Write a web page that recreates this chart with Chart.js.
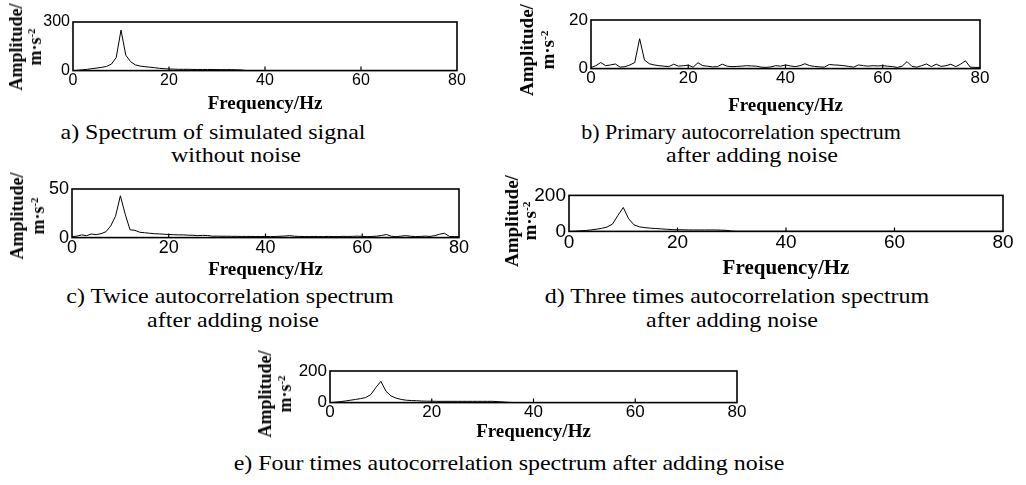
<!DOCTYPE html>
<html>
<head>
<meta charset="utf-8">
<script src="https://cdn.jsdelivr.net/npm/chart.js@4.4.1/dist/chart.umd.min.js"></script>
<style>
  body { margin: 0; background: #fff; width: 1026px; height: 485px; position: relative; overflow: hidden;
         font-family: "Liberation Serif", "Times New Roman", serif; color: #000; }
  canvas { position: absolute; }
  .cap { position: absolute; white-space: nowrap; font-size: 22px; line-height: 22px; }
  .ytl { position: absolute; white-space: nowrap; font-weight: bold; text-align: center;
         transform: translate(-50%, -50%) rotate(-90deg); }
  .ytl sup { font-size: 0.6em; line-height: 0; vertical-align: 0.55em; }
</style>
</head>
<body>
<script>
// frequency axis, 1 Hz steps
const hz = [0,1,2,3,4,5,6,7,8,9,10,11,12,13,14,15,16,17,18,19,20,
  21,22,23,24,25,26,27,28,29,30,31,32,33,34,35,36,37,38,39,40,
  41,42,43,44,45,46,47,48,49,50,51,52,53,54,55,56,57,58,59,60,
  61,62,63,64,65,66,67,68,69,70,71,72,73,74,75,76,77,78,79,80];

// a) spectrum of simulated signal without noise
const ampA = [0,2,5,8,12,16,20,26,40,80,250,95,55,35,28,24,21,18,14,12,10,
  9,8,8,8,7,7,7,7,7,6,6,6,6,5,4,1,1,1,1,1,
  1,1,1,1,1,1,1,1,1,1,1,1,1,1,1,1,1,1,1,1,
  1,1,1,1,1,1,1,1,1,1,1,1,1,1,1,1,1,1,1,1];

// b) primary autocorrelation spectrum
const ampB = [0.4,1.2,2.5,1.2,1.5,1.9,0.6,0.8,1.5,2.5,12.3,3.5,2.0,1.5,1.2,1.0,0.8,1.8,1.0,1.2,1.4,
  0.6,2.4,1.2,1.0,0.7,0.8,1.8,1.0,0.8,0.9,1.0,1.2,1.1,1.0,0.6,0.5,0.7,1.2,1.0,1.5,
  1.1,0.8,1.2,2.0,1.2,0.9,0.7,0.6,1.7,1.5,1.4,1.2,0.9,0.6,1.5,1.2,1.0,1.2,1.1,1.2,
  1.0,0.8,0.5,1.0,2.9,0.9,0.6,1.2,1.9,0.8,1.8,0.9,1.2,1.8,0.8,1.8,3.2,0.6,0.5,0.5];

// c) twice autocorrelation spectrum
const ampC = [1,1.5,2.8,2,3.7,3,4,6,12,22,43,24,8,7.5,5.5,5,4.5,4,3.8,3.5,3.2,
  3,2.8,2.8,2.5,2.4,2,2.3,2.2,1.5,1.5,1.4,1.4,1.3,1.3,1.2,1.2,1.2,1.1,1.1,1.2,
  1.0,1.2,1.4,1.6,2.0,1.4,1.2,1.1,1.0,1.2,1.1,1.0,1.2,1.1,1.0,1.3,1.2,1.3,1.5,1.2,
  1.0,1.2,1.5,2.2,3.2,1.4,1.0,1.5,2.0,1.4,1.0,1.2,1.5,1.2,2.0,3.5,4.5,1.2,1.0,1.0];

// d) three times autocorrelation spectrum
const ampD = [0,1,3,5,8,12,17,24,40,88,133,70,36,25,21,18,16,14,12,10,9,
  9,8,8,8,8,8,8,7,6,2,0.5,0.5,0.5,0.5,0.5,0.5,0.5,0.5,0.5,0.5,
  0.5,0.5,0.5,0.5,0.5,0.5,0.5,0.5,0.5,0.5,0.5,0.5,0.5,0.5,0.5,0.5,0.5,0.5,0.5,0.5,
  0.5,0.5,0.5,0.5,0.5,0.5,0.5,0.5,0.5,0.5,0.5,0.5,0.5,0.5,0.5,0.5,0.5,0.5,0.5,0.5];

// e) four times autocorrelation spectrum
const ampE = [0,3,6,10,15,20,25,32,50,95,135,72,42,28,20,15,13,12,10,9,9,
  8,8,8,8,8,8,8,8,8,8,8,8,6,4,2,0.5,0.5,0.5,0.5,0.5,
  0.5,0.5,0.5,0.5,0.5,0.5,0.5,0.5,0.5,0.5,0.5,0.5,0.5,0.5,0.5,0.5,0.5,0.5,0.5,0.5,
  0.5,0.5,0.5,0.5,0.5,0.5,0.5,0.5,0.5,0.5,0.5,0.5,0.5,0.5,0.5,0.5,0.5,0.5,0.5,0.5];

const xTicks = [0, 20, 40, 60, 80];
const yTicksA = [0, 300];
const yTicksB = [0, 20];
const yTicksC = [0, 50];
const yTicksD = [0, 200];
const yTicksE = [0, 200];

const xTitle = 'Frequency/Hz';

// layout of each small plot: box = plot frame [left, top, right, bottom]
const panels = [
  { data: ampA, yTicks: yTicksA, box: [73, 22, 457, 71],   tick: 16, tfs: 19, titleY: 104, yt: [26, 47, 18, 19] },
  { data: ampB, yTicks: yTicksB, box: [591, 20, 980, 69],  tick: 17, tfs: 19, titleY: 106, yt: [537, 50, 19, 21] },
  { data: ampC, yTicks: yTicksC, box: [72, 189, 459, 238], tick: 18, tfs: 19, titleY: 270, yt: [28, 216, 18, 21] },
  { data: ampD, yTicks: yTicksD, box: [569, 195, 1003, 232], tick: 19, tfs: 21, titleY: 269, yt: [521, 221, 19, 18] },
  { data: ampE, yTicks: yTicksE, box: [330, 371, 737, 403], tick: 17, tfs: 19, titleY: 432, yt: [275, 394, 18, 20] }
];

// caption text, centre x, baseline y, horizontal stretch
const captions = [
  ['a) Spectrum of simulated signal', 213, 139, 1.09],
  ['without noise', 236, 162, 1.09],
  ['b) Primary autocorrelation spectrum', 741, 139, 1.0],
  ['after adding noise', 752, 162, 1.09],
  ['c) Twice autocorrelation spectrum', 230, 303, 1.09],
  ['after adding noise', 233, 327, 1.09],
  ['d) Three times autocorrelation spectrum', 737, 303, 1.09],
  ['after adding noise', 732, 327, 1.09],
  ['e) Four times autocorrelation spectrum after adding noise', 509, 470, 1.09]
];

// frame round the plot area plus short inward ticks on the x axis
const framePlugin = {
  id: 'frame',
  afterDatasetsDraw(chart) {
    const { ctx, chartArea: a, scales } = chart;
    ctx.save();
    ctx.strokeStyle = '#000';
    ctx.lineWidth = 1.6;
    ctx.strokeRect(a.left, a.top, a.right - a.left, a.bottom - a.top);
    ctx.lineWidth = 1.2;
    ctx.beginPath();
    xTicks.slice(1, -1).forEach(v => {
      const px = scales.x.getPixelForValue(v);
      ctx.moveTo(px, a.bottom);
      ctx.lineTo(px, a.bottom - 4);
    });
    ctx.stroke();
    ctx.restore();
  }
};

const PAD_TOP = 14, PAD_RIGHT = 22, Y_W = 60;

panels.forEach(p => {
  const [l, t, r, b] = p.box;
  const lh = p.tfs * 1.2;
  const xH = p.titleY - b + lh / 2;

  const canvas = document.createElement('canvas');
  canvas.width = Y_W + (r - l) + PAD_RIGHT;
  canvas.height = PAD_TOP + (b - t) + xH;
  canvas.style.left = (l - Y_W) + 'px';
  canvas.style.top = (t - PAD_TOP) + 'px';
  document.body.appendChild(canvas);

  new Chart(canvas, {
    type: 'line',
    data: {
      datasets: [{
        data: hz.map((f, i) => ({ x: f, y: p.data[i] })),
        borderColor: '#000',
        borderWidth: 1,
        pointRadius: 0,
        tension: 0,
        fill: false
      }]
    },
    options: {
      responsive: false,
      maintainAspectRatio: false,
      animation: false,
      devicePixelRatio: 1,
      layout: { padding: { top: PAD_TOP, right: PAD_RIGHT, left: 0, bottom: 0 } },
      plugins: { legend: { display: false }, tooltip: { enabled: false } },
      scales: {
        x: {
          type: 'linear', min: 0, max: 80,
          grid: { display: false, drawTicks: false },
          border: { display: false },
          afterBuildTicks: s => { s.ticks = xTicks.map(v => ({ value: v })); },
          afterFit: s => { s.height = xH; },
          ticks: { color: '#000', padding: 0, maxRotation: 0,
                   font: { family: '"Liberation Sans", Arial, sans-serif', size: p.tick } },
          title: { display: true, text: xTitle, color: '#000', padding: 0,
                   font: { family: '"Liberation Serif", "Times New Roman", serif', size: p.tfs, weight: 'bold' } }
        },
        y: {
          min: p.yTicks[0], max: p.yTicks[p.yTicks.length - 1],
          grid: { display: false, drawTicks: false },
          border: { display: false },
          afterBuildTicks: s => { s.ticks = p.yTicks.map(v => ({ value: v })); },
          afterFit: s => { s.width = Y_W; },
          ticks: { color: '#000', padding: 3,
                   font: { family: '"Liberation Sans", Arial, sans-serif', size: p.tick } }
        }
      }
    },
    plugins: [framePlugin]
  });

  // rotated two-line y title
  const yt = document.createElement('div');
  yt.className = 'ytl';
  yt.style.left = p.yt[0] + 'px';
  yt.style.top = p.yt[1] + 'px';
  yt.style.fontSize = p.yt[2] + 'px';
  yt.style.lineHeight = p.yt[3] + 'px';
  yt.innerHTML = 'Amplitude/<br>m·s<sup>-2</sup>';
  document.body.appendChild(yt);
});

captions.forEach(([text, cx, base, sx]) => {
  const d = document.createElement('div');
  d.className = 'cap';
  d.textContent = text;
  d.style.left = cx + 'px';
  d.style.top = (base - 18) + 'px';
  d.style.transform = 'translateX(-50%) scaleX(' + sx + ')';
  document.body.appendChild(d);
});
</script>
</body>
</html>
